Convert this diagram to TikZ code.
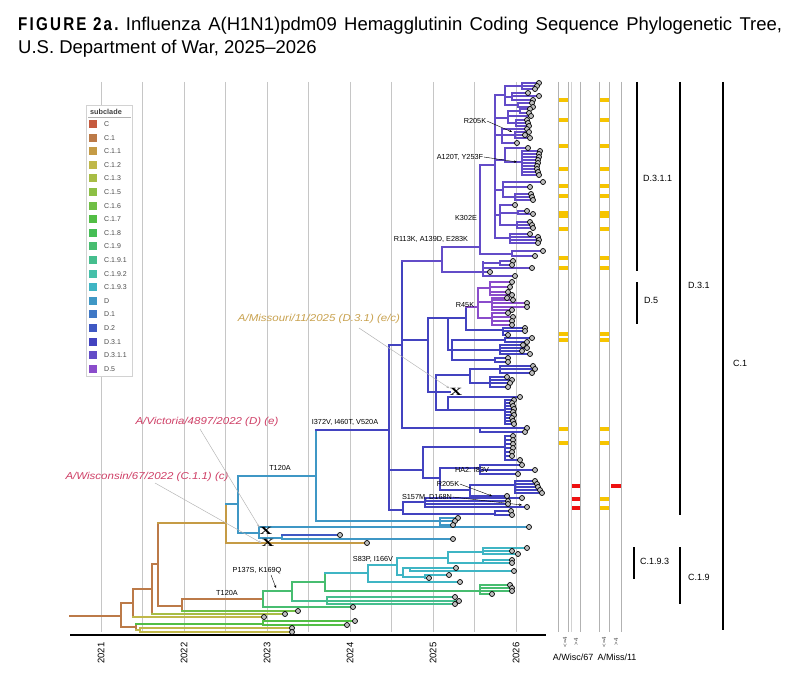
\documentclass[tikz,border=0pt]{standalone}
\usepackage{fontspec}
\setmainfont{Liberation Sans}
\newfontfamily\figfont[FakeStretch=0.82,LetterSpace=12]{Liberation Sans}
\newfontfamily\vacfont[FakeStretch=1.15]{Liberation Sans}
\newfontfamily\serfont{Liberation Serif}
\usetikzlibrary{arrows.meta}
\pgfdeclarelayer{fg}
\pgfsetlayers{main,fg}
\definecolor{cC}{HTML}{C55A3E}
\definecolor{cC1}{HTML}{BC7A48}
\definecolor{cC11}{HTML}{C59B45}
\definecolor{cC12}{HTML}{C0B849}
\definecolor{cC13}{HTML}{A8BD45}
\definecolor{cC15}{HTML}{8DC045}
\definecolor{cC16}{HTML}{70BF45}
\definecolor{cC17}{HTML}{52BE45}
\definecolor{cC18}{HTML}{45BE55}
\definecolor{cC19}{HTML}{47BD70}
\definecolor{cC191}{HTML}{45BE8E}
\definecolor{cC192}{HTML}{45C0A9}
\definecolor{cC193}{HTML}{3FB5C4}
\definecolor{cD}{HTML}{3F97C5}
\definecolor{cD1}{HTML}{3F78C5}
\definecolor{cD2}{HTML}{3F58C3}
\definecolor{cD31}{HTML}{4343C0}
\definecolor{cD311}{HTML}{634CC8}
\definecolor{cD5}{HTML}{8A4CCB}
\definecolor{vred}{HTML}{CF3F66}
\definecolor{vgold}{HTML}{C9A24F}
\definecolor{colYel}{HTML}{F6C400}
\definecolor{colRed}{HTML}{EE1111}
\newcommand\Col[1]{\def\bc{#1}}
\def\bc{black}
\newcommand\Hb[3]{\draw[br] (#1,#3) -- (#2,#3);}
\newcommand\Vb[3]{\draw[br] (#1,#2) -- (#1,#3);}
\newcommand\Lf[3]{\draw[br] (#1,#2) -- (#3,#2);\begin{pgfonlayer}{fg}\filldraw[tipc] (#3,#2) circle (2.5);\end{pgfonlayer}}
\newcommand\Grp[6]{\Hb{#1}{#3}{#2}\Vb{#3}{#4}{#5}\foreach \yy/\xx in {#6}{\Lf{#3}{\yy}{\xx}}}
\begin{document}
\begin{tikzpicture}[x=1pt,y=-1pt,
  br/.style={draw=\bc, line width=2.5pt, line cap=rect},
  tipc/.style={fill=gray!50, draw=black, line width=0.7pt},
  grid/.style={draw=gray!45, line width=0.7pt},
  mut/.style={font=\fontsize{7.3}{8}\selectfont, inner sep=0.5pt},
  marr/.style={draw=black, line width=0.4pt, -{Stealth[length=3pt,width=2.4pt]}},
  varr/.style={draw=gray!60, line width=0.45pt, -{Stealth[length=3pt,width=2.4pt]}},
  vac/.style={font=\vacfont\itshape\fontsize{10}{11}\selectfont, inner sep=0.5pt},
  xmark/.style={font=\serfont\bfseries\fontsize{13}{13}\selectfont, inner sep=0, text=black, xscale=1.35, yscale=0.85},
  yr/.style={font=\fontsize{9.5}{10}\selectfont, rotate=90, inner sep=0},
  clab/.style={font=\fontsize{9}{10}\selectfont, anchor=west, inner sep=0},
  cbar/.style={draw=black, line width=1.5pt},
  colline/.style={draw=gray!60, line width=0.8pt},
  leg/.style={font=\fontsize{7}{8}\selectfont, text=black!70, anchor=west, inner sep=0}]
\useasboundingbox (0,0) rectangle (800,687);
\fill[white] (0,0) rectangle (800,687);
% title
\node[anchor=base west, inner sep=0] (t1) at (18,31) {\fontsize{18.5}{20}\selectfont\makebox[764pt][s]{\hbox{\figfont\bfseries FIGURE 2a.} Influenza A(H1N1)pdm09 Hemagglutinin Coding Sequence Phylogenetic Tree,}};
\node[anchor=base west, inner sep=0] (t2) at (18,54) {\fontsize{18.5}{20}\selectfont U.S. Department of War, 2025--2026};
% grid
\foreach \x in {101,142.5,184,225.5,267,308.5,350,391.5,433,474.5,516} \draw[grid] (\x,82) -- (\x,632);
% axis
\draw[line width=2.6pt] (70,635) -- (546,635);
\foreach \x/\t in {101/2021,184/2022,267/2023,350/2024,433/2025,516/2026} \node[yr] (y\t) at (\x,653) {\t};
% legend
\draw[gray!35, fill=white, line width=0.6pt] (86,105) rectangle (132,376);
\node[font=\bfseries\fontsize{7.3}{8}\selectfont, text=black!75, inner sep=0] (legh) at (106,112) {subclade};
\draw[gray!60, line width=0.6pt] (88,117.5) -- (131,117.5);
\foreach \c/\t [count=\i from 0] in {cC/C,cC1/C.1,cC11/C.1.1,cC12/C.1.2,cC13/C.1.3,cC15/C.1.5,cC16/C.1.6,cC17/C.1.7,cC18/C.1.8,cC19/C.1.9,cC191/C.1.9.1,cC192/C.1.9.2,cC193/C.1.9.3,cD/D,cD1/D.1,cD2/D.2,cD31/D.3.1,cD311/D.3.1.1,cD5/D.5}{
  \fill[\c] (89,124+13.6*\i-4) rectangle (97,124+13.6*\i+4);
  \node[leg] (leg\i) at (104,124+13.6*\i) {\t};}
% ---------------- tree ----------------
\Col{cC1}
\Hb{70}{121}{616}\Vb{121}{603}{627}
\Hb{121}{133}{603}\Vb{133}{589}{617}
\Hb{133}{152}{589}\Vb{152}{564}{613}
\Hb{152}{158}{564}\Vb{158}{523}{606}
\Hb{158}{182}{606}\Vb{182}{599}{611}
\Hb{182}{263}{599}
\Hb{121}{136}{627}\Vb{136}{624}{630}
\Col{cC16}\Lf{182}{611}{298}
\Col{cC13}\Lf{152}{614}{285}
\Col{cC12}\Lf{133}{617}{264}
\Col{cC17}\Grp{136}{624}{263}{621}{625}{621/355,625/347}
\Col{cC12}\Grp{136}{630}{140}{628}{632}{628/292,632/292}
% C.1.1
\Col{cC11}\Hb{158}{226}{523}\Vb{226}{504}{543}\Lf{226}{543}{367}
% D
\Col{cD}\Hb{226}{238}{504}\Vb{238}{476}{533}
\Hb{238}{316}{476}\Vb{316}{430}{521}
\Hb{238}{259}{533}\Vb{259}{527}{538}
\Lf{259}{527}{529}
\Hb{259}{282}{538}\Vb{282}{535}{539}
\Col{cD2}\Lf{282}{535}{340}
\Col{cD}\Lf{282}{539}{453}
\Grp{316}{521}{440}{518}{525}{518/458,521/455,525/453}
% D.3.1
\Col{cD31}\Hb{316}{389}{430}\Vb{389}{345}{510}
\Hb{389}{402}{345}\Vb{402}{261}{428}
\Col{cD311}\Hb{402}{442}{261}\Vb{442}{247}{272}
\Hb{442}{480}{247}\Vb{480}{165}{254}
\Hb{480}{495}{165}\Vb{495}{95}{238}
\Hb{495}{505}{95}\Vb{505}{86}{105}
\Grp{505}{86}{522}{83}{89}{83/539,86/537,89/535}
\Grp{505}{97}{512}{93}{100}{93/528,96/539,100/533}
\Grp{505}{105}{518}{103}{107}{103/532,107/533}
\Hb{495}{508}{118}\Vb{508}{111}{123}
\Grp{508}{111}{520}{109}{113}{109/530,113/529}
\Lf{508}{116}{531}
\Grp{508}{123}{516}{120}{126}{120/527,123/528,126/529}
\Hb{495}{502}{135}\Vb{502}{129}{143}
\Lf{502}{129}{527}
\Grp{502}{135}{515}{132}{138}{132/529,135/525,138/530}
\Lf{502}{143}{517}
\Hb{495}{505}{160}\Vb{505}{148}{162}
\Lf{505}{148}{528}
\Grp{505}{162}{522}{151}{175}{151/540,154/539,157/539,160/538,163/538,166/537,169/537,172/538,175/539}
\Hb{495}{503}{190}\Vb{503}{182}{197}
\Lf{503}{182}{543}\Lf{503}{187}{530}
\Grp{503}{197}{515}{194}{200}{194/531,197/532,200/533}
\Hb{495}{500}{215}\Vb{500}{205}{225}
\Lf{500}{205}{515}
\Grp{500}{213}{518}{211}{214}{211/527,214/533}
\Grp{500}{225}{517}{222}{228}{222/530,225/532,228/533}
\Grp{495}{238}{510}{234}{243}{234/530,237/538,240/539,243/538}
\Grp{480}{254}{512}{251}{256}{251/543,256/535}
\Hb{442}{483}{272}\Vb{483}{262}{276}
\Grp{483}{263}{500}{261}{265}{261/513,265/512}
\Lf{483}{268}{532}\Lf{483}{272}{490}\Lf{483}{276}{515}
% middle D.3.1
\Col{cD31}\Hb{402}{428}{340}\Vb{428}{318}{392}
\Hb{428}{448}{318}\Vb{448}{318}{350}
\Hb{448}{466}{318}\Vb{466}{307}{330}
\Col{cD5}\Hb{466}{478}{307}\Vb{478}{288}{318}
\Grp{478}{288}{490}{282}{295}{282/512,287/510,292/508,295/512}
\Grp{478}{302}{492}{298}{310}{298/507,300/513,303/527,307/527,310/512}
\Grp{478}{318}{492}{313}{325}{313/508,317/513,321/512,325/512}
\Col{cD31}\Grp{466}{330}{503}{328}{335}{328/525,331/525,335/508}
\Hb{448}{452}{350}\Vb{452}{340}{360}
\Grp{452}{340}{505}{338}{342}{338/532,342/527}
\Grp{452}{350}{500}{345}{354}{345/523,348/527,351/522,354/530}
\Grp{452}{360}{495}{358}{362}{358/508,362/508}
\Hb{428}{436}{392}\Vb{436}{375}{410}
\Hb{436}{470}{375}\Vb{470}{369}{383}
\Grp{470}{369}{500}{366}{373}{366/533,369/535,373/532}
\Grp{470}{383}{490}{377}{387}{377/507,380/512,383/510,387/508}
\Hb{436}{450}{392}
\Hb{436}{448}{410}\Vb{448}{397}{410}
\Lf{448}{397}{520}
\Grp{448}{410}{505}{400}{424}{400/514,403/512,406/513,409/514,412/513,415/514,418/512,421/513,424/514}
\Grp{402}{428}{480}{428}{432}{428/527,432/525}
\Hb{389}{423}{470}\Vb{423}{447}{478}
\Grp{423}{447}{505}{436}{460}{436/513,440/513,444/513,448/513,452/512,456/512,460/520}
\Hb{423}{440}{478}\Vb{440}{468}{490}
\Grp{440}{468}{480}{465}{474}{465/522,470/535,474/518}
\Hb{440}{470}{490}\Vb{470}{485}{496}
\Grp{470}{485}{515}{481}{493}{481/535,484/537,487/538,490/540,493/542}
\Lf{470}{496}{507}
\Hb{389}{403}{510}\Vb{403}{502}{514}
\Grp{403}{502}{425}{498}{507}{498/522,501/508,504/508,507/527}
\Grp{403}{514}{495}{511}{515}{511/511,515/512}
% C.1.9
\Col{cC19}\Vb{263}{591}{607}\Hb{263}{292}{591}\Lf{263}{607}{353}
\Vb{292}{582}{601}\Hb{292}{325}{582}\Vb{325}{573}{591}
\Col{cC191}\Grp{292}{601}{327}{597}{604}{597/455,601/459,604/455}
\Col{cC193}\Hb{325}{368}{573}\Vb{368}{565}{582}
\Hb{368}{397}{565}\Vb{397}{558}{575}
\Hb{397}{448}{558}\Vb{448}{552}{563}
\Grp{448}{552}{483}{548}{554}{548/527,551/512,554/518}
\Grp{448}{563}{483}{560}{563}{560/512,563/512}
\Hb{397}{403}{575}\Vb{403}{568}{577}
\Grp{403}{568}{410}{568}{571}{568/456,571/514}
\Grp{403}{577}{425}{575}{578}{575/449,578/429}
\Lf{368}{582}{460}
\Col{cC19}\Grp{325}{591}{480}{585}{594}{585/510,588/512,591/512,594/492}
% X markers
\begin{pgfonlayer}{fg}
\node[xmark] (xvic) at (266,531) {X};
\node[xmark] (xwis) at (268,543) {X};
\node[xmark] (xmis) at (456,392) {X};
\end{pgfonlayer}
% mutation labels
\node[mut] (m1) at (475,121) {R205K};
\node[mut] (m2) at (460,157) {A120T, Y253F};
\node[mut] (m3) at (466,218) {K302E};
\node[mut] (m4) at (431,239) {R113K, A139D, E283K};
\node[mut] (m5) at (465,305) {R45K};
\node[mut] (m6) at (345,422) {I372V, I460T, V520A};
\node[mut] (m7) at (280,468) {T120A};
\node[mut] (m8) at (472,470) {HA2: I83V};
\node[mut] (m9) at (448,484) {R205K};
\node[mut] (m10) at (427,497) {S157M, D168N};
\node[mut] (m11) at (373,559) {S83P, I166V};
\node[mut] (m12) at (257,571) {P137S, K169Q};
\node[mut] (m13) at (227,593) {T120A};
\coordinate (a1) at (512,132);
\coordinate (a2) at (517,162);
\coordinate (a9) at (492,496);
\coordinate (a10) at (522,505);
\coordinate (a12) at (276,588);
\draw[marr] (m1.east) -- (a1);
\draw[marr] (m2.east) -- (a2);
\draw[marr] (m9.east) -- (a9);
\draw[marr] (m10.east) -- (a10);
\draw[marr] ([xshift=14pt]m12.south) -- (a12);
% vaccine labels
\node[vac, text=vred] (vic) at (207,422) {A/Victoria/4897/2022 (D) (e)};
\node[vac, text=vred] (wis) at (147,477) {A/Wisconsin/67/2022 (C.1.1) (c)};
\node[vac, text=vgold] (mis) at (319,319) {A/Missouri/11/2025 (D.3.1) (e/c)};
\coordinate (v1) at (200,429);
\coordinate (v2) at (155,483);
\coordinate (v3) at (359,328);
\draw[varr] (v1) -- (xvic.north west);
\draw[varr] (v2) -- (xwis.west);
\draw[varr] (v3) -- (xmis.north west);
% right columns
\foreach \x in {558,568.5,580,599,621} \draw[colline] (\x,82) -- (\x,632);
\draw[draw=gray!35, line width=0.8pt] (571,82) -- (571,632);
\draw[draw=gray!60, line width=1.8pt] (609.5,82) -- (609.5,632);
\foreach \y in {100,120,146,169,186,196,229,258,268,334,340} {
  \fill[colYel] (558.5,\y-1.6) rectangle (568,\y+1.6);
  \fill[colYel] (599.5,\y-1.6) rectangle (608.5,\y+1.6);}
\fill[colYel] (558.5,211) rectangle (568,218);
\fill[colYel] (599.5,211) rectangle (608.5,218);
\foreach \y in {429,443} \fill[colYel] (558.5,\y-1.6) rectangle (568,\y+1.6);
\foreach \y in {429,443,499,508} \fill[colYel] (599.5,\y-1.6) rectangle (608.5,\y+1.6);
\foreach \y in {486,499,508} \fill[colRed] (571.5,\y-1.6) rectangle (580,\y+1.6);
\fill[colRed] (610.5,484.4) rectangle (621,487.6);
% clade bars
\draw[cbar] (637,82) -- (637,271);
\node[clab] (l1) at (643,178) {D.3.1.1};
\draw[cbar] (637,282) -- (637,324);
\node[clab] (l2) at (644,300) {D.5};
\draw[cbar] (680,82) -- (680,515);
\node[clab] (l3) at (688,285) {D.3.1};
\draw[cbar] (723,82) -- (723,630);
\node[clab] (l4) at (733,363) {C.1};
\draw[cbar] (634,547) -- (634,579);
\node[clab] (l5) at (640,561) {C.1.9.3};
\draw[cbar] (680,547) -- (680,604);
\node[clab] (l6) at (688,577) {C.1.9};
% bottom column labels
\foreach \x/\t [count=\i] in {565/{<=4},576/{>4},604/{<=4},616/{>4}} \node[font=\fontsize{6}{6}\selectfont, rotate=90, text=black!70, inner sep=0] (s\i) at (\x,642) {\t};
\node[font=\fontsize{9}{10}\selectfont, inner sep=0] (bw) at (573,657) {A/Wisc/67};
\node[font=\fontsize{9}{10}\selectfont, inner sep=0] (bm) at (617,657) {A/Miss/11};
\end{tikzpicture}
\end{document}
